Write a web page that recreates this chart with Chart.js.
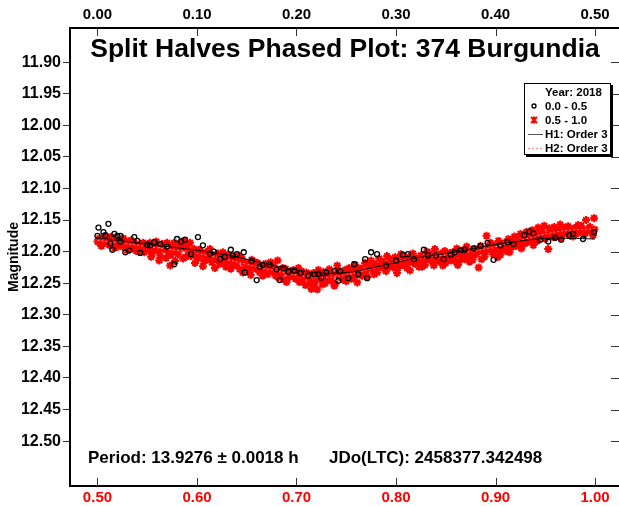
<!DOCTYPE html>
<html>
<head>
<meta charset="utf-8">
<script src="https://cdn.jsdelivr.net/npm/chart.js@4.4.0/dist/chart.umd.min.js"></script>
<style>
  html, body { margin: 0; padding: 0; background: #fff; }
  #wrap { width: 619px; height: 506px; overflow: hidden; }
</style>
</head>
<body>
<div id="wrap"><canvas id="phaseChart" width="619" height="506"></canvas></div>
<script>
// first half of the phase (0.0 - 0.5), black circles
var blackPhase = [0.001, 0.011, 0.000, 0.006, 0.008, 0.013, 0.015, 0.017, 0.020, 0.023,
    0.023, 0.028, 0.032, 0.037, 0.040, 0.043, 0.050, 0.053, 0.057, 0.063,
    0.070, 0.077, 0.080, 0.084, 0.088, 0.094, 0.101, 0.106, 0.113, 0.117,
    0.123, 0.128, 0.134, 0.136, 0.140, 0.147, 0.148, 0.155, 0.160, 0.163,
    0.166, 0.173, 0.180, 0.183, 0.187, 0.192, 0.198, 0.204, 0.212, 0.218,
    0.222, 0.225, 0.230, 0.238, 0.242, 0.244, 0.252, 0.258, 0.262, 0.269,
    0.271, 0.275, 0.281, 0.290, 0.300, 0.307, 0.312, 0.318, 0.328, 0.332,
    0.340, 0.348, 0.355, 0.359, 0.365, 0.369, 0.378, 0.385, 0.392, 0.398,
    0.405, 0.412, 0.418, 0.429, 0.434, 0.438, 0.445, 0.453, 0.460, 0.466,
    0.474, 0.478, 0.488, 0.499];
var blackMag = [12.162, 12.156, 12.175, 12.169, 12.174, 12.187, 12.197, 12.172, 12.175, 12.175,
    12.184, 12.201, 12.198, 12.177, 12.183, 12.202, 12.189, 12.190, 12.185, 12.188,
    12.192, 12.220, 12.180, 12.184, 12.181, 12.204, 12.177, 12.190, 12.203, 12.200,
    12.212, 12.208, 12.197, 12.206, 12.204, 12.201, 12.233, 12.215, 12.245, 12.224,
    12.221, 12.221, 12.228, 12.245, 12.226, 12.232, 12.230, 12.234, 12.238, 12.236,
    12.235, 12.241, 12.233, 12.231, 12.246, 12.231, 12.242, 12.220, 12.236, 12.212,
    12.242, 12.201, 12.204, 12.222, 12.214, 12.205, 12.204, 12.212, 12.197, 12.206,
    12.206, 12.212, 12.205, 12.201, 12.198, 12.197, 12.195, 12.191, 12.186, 12.213,
    12.190, 12.185, 12.188, 12.174, 12.168, 12.171, 12.181, 12.184, 12.178, 12.181,
    12.174, 12.172, 12.180, 12.169];

// second half of the phase (0.5 - 1.0), red crosses
var redPhase = [0.500, 0.502, 0.503, 0.505, 0.507, 0.509, 0.511, 0.512, 0.514, 0.516,
    0.518, 0.520, 0.521, 0.523, 0.525, 0.527, 0.529, 0.531, 0.533, 0.535,
    0.537, 0.539, 0.541, 0.543, 0.545, 0.547, 0.549, 0.551, 0.553, 0.555,
    0.557, 0.559, 0.561, 0.563, 0.565, 0.567, 0.569, 0.571, 0.573, 0.575,
    0.577, 0.579, 0.581, 0.583, 0.585, 0.587, 0.589, 0.591, 0.593, 0.595,
    0.597, 0.599, 0.601, 0.603, 0.605, 0.607, 0.609, 0.611, 0.613, 0.615,
    0.617, 0.619, 0.621, 0.623, 0.625, 0.627, 0.629, 0.631, 0.633, 0.635,
    0.637, 0.639, 0.641, 0.643, 0.645, 0.647, 0.649, 0.651, 0.653, 0.655,
    0.657, 0.659, 0.661, 0.663, 0.665, 0.667, 0.669, 0.671, 0.673, 0.675,
    0.677, 0.679, 0.681, 0.683, 0.685, 0.687, 0.689, 0.691, 0.693, 0.695,
    0.697, 0.699, 0.701, 0.703, 0.705, 0.707, 0.709, 0.711, 0.713, 0.715,
    0.717, 0.719, 0.721, 0.723, 0.725, 0.727, 0.729, 0.731, 0.733, 0.735,
    0.737, 0.739, 0.741, 0.743, 0.745, 0.747, 0.749, 0.751, 0.753, 0.755,
    0.757, 0.759, 0.761, 0.763, 0.765, 0.767, 0.769, 0.771, 0.773, 0.775,
    0.777, 0.779, 0.781, 0.783, 0.785, 0.787, 0.789, 0.791, 0.793, 0.795,
    0.797, 0.799, 0.801, 0.803, 0.805, 0.807, 0.809, 0.811, 0.813, 0.815,
    0.817, 0.819, 0.821, 0.823, 0.825, 0.827, 0.829, 0.831, 0.833, 0.835,
    0.837, 0.839, 0.841, 0.843, 0.845, 0.847, 0.849, 0.851, 0.853, 0.855,
    0.857, 0.859, 0.861, 0.863, 0.865, 0.867, 0.869, 0.871, 0.873, 0.875,
    0.877, 0.879, 0.881, 0.883, 0.885, 0.887, 0.889, 0.891, 0.893, 0.895,
    0.897, 0.899, 0.901, 0.903, 0.905, 0.907, 0.909, 0.911, 0.913, 0.915,
    0.917, 0.919, 0.921, 0.923, 0.925, 0.927, 0.929, 0.931, 0.933, 0.935,
    0.937, 0.939, 0.941, 0.943, 0.945, 0.947, 0.949, 0.951, 0.953, 0.955,
    0.957, 0.959, 0.961, 0.963, 0.965, 0.967, 0.969, 0.971, 0.973, 0.975,
    0.977, 0.979, 0.981, 0.983, 0.985, 0.987, 0.989, 0.991, 0.993, 0.995,
    0.997, 0.999, 0.9995,
    0.504, 0.508, 0.513, 0.517, 0.522, 0.526, 0.530, 0.534, 0.538, 0.542,
    0.546, 0.550, 0.554, 0.558, 0.562, 0.566, 0.570, 0.574, 0.578, 0.582,
    0.586, 0.590, 0.594, 0.598, 0.602, 0.606, 0.610, 0.614, 0.618, 0.622,
    0.626, 0.630, 0.634, 0.638, 0.642, 0.646, 0.650, 0.654, 0.658, 0.662,
    0.666, 0.670, 0.674, 0.678, 0.682, 0.686, 0.690, 0.694, 0.698, 0.702,
    0.706, 0.710, 0.714, 0.718, 0.722, 0.726, 0.730, 0.734, 0.738, 0.742,
    0.746, 0.750, 0.754, 0.758, 0.762, 0.766, 0.770, 0.774, 0.778, 0.782,
    0.786, 0.790, 0.794, 0.798, 0.802, 0.806, 0.810, 0.814, 0.818, 0.822,
    0.826, 0.830, 0.834, 0.838, 0.842, 0.846, 0.850, 0.854, 0.858, 0.862,
    0.866, 0.870, 0.874, 0.878, 0.882, 0.886, 0.890, 0.894, 0.898, 0.902,
    0.906, 0.910, 0.914, 0.918, 0.922, 0.926, 0.930, 0.934, 0.938, 0.942,
    0.946, 0.950, 0.954, 0.958, 0.962, 0.966, 0.970, 0.974, 0.978, 0.982,
    0.986, 0.990, 0.994, 0.998];
var redMag = [12.184, 12.179, 12.188, 12.182, 12.176, 12.186, 12.180, 12.190, 12.184, 12.178,
    12.187, 12.183, 12.192, 12.186, 12.181, 12.193, 12.188, 12.184, 12.196, 12.190,
    12.186, 12.199, 12.192, 12.188, 12.195, 12.201, 12.190, 12.197, 12.186, 12.203,
    12.194, 12.184, 12.199, 12.206, 12.188, 12.196, 12.210, 12.201, 12.222, 12.192,
    12.186, 12.199, 12.204, 12.189, 12.195, 12.183, 12.208, 12.198, 12.186, 12.202,
    12.196, 12.206, 12.211, 12.199, 12.204, 12.215, 12.201, 12.209, 12.196, 12.217,
    12.206, 12.212, 12.203, 12.219, 12.209, 12.214, 12.224, 12.205, 12.212, 12.218,
    12.208, 12.221, 12.214, 12.228, 12.211, 12.217, 12.224, 12.219, 12.230, 12.213,
    12.222, 12.227, 12.218, 12.233, 12.224, 12.229, 12.219, 12.236, 12.226, 12.231,
    12.223, 12.238, 12.214, 12.229, 12.234, 12.244, 12.227, 12.232, 12.240, 12.236,
    12.229, 12.243, 12.235, 12.248, 12.231, 12.239, 12.253, 12.237, 12.242, 12.259,
    12.234, 12.246, 12.260, 12.238, 12.244, 12.232, 12.250, 12.241, 12.228, 12.246,
    12.236, 12.251, 12.222, 12.240, 12.233, 12.245, 12.229, 12.238, 12.226, 12.243,
    12.232, 12.221, 12.249, 12.236, 12.227, 12.231, 12.218, 12.240, 12.225, 12.214,
    12.229, 12.220, 12.233, 12.211, 12.224, 12.216, 12.228, 12.207, 12.219, 12.213,
    12.225, 12.209, 12.234, 12.217, 12.204, 12.221, 12.212, 12.226, 12.208, 12.216,
    12.203, 12.219, 12.211, 12.224, 12.206, 12.214, 12.221, 12.200, 12.212, 12.207,
    12.218, 12.196, 12.209, 12.215, 12.203, 12.222, 12.199, 12.211, 12.206, 12.214,
    12.201, 12.209, 12.195, 12.217, 12.204, 12.198, 12.212, 12.192, 12.207, 12.201,
    12.213, 12.196, 12.204, 12.225, 12.191, 12.199, 12.208, 12.175, 12.194, 12.186,
    12.201, 12.190, 12.197, 12.183, 12.205, 12.192, 12.186, 12.199, 12.180, 12.193,
    12.185, 12.176, 12.191, 12.182, 12.172, 12.188, 12.179, 12.169, 12.184, 12.176,
    12.166, 12.181, 12.173, 12.162, 12.177, 12.170, 12.159, 12.174, 12.196, 12.166,
    12.171, 12.161, 12.176, 12.168, 12.157, 12.173, 12.165, 12.170, 12.160, 12.175,
    12.168, 12.163, 12.172, 12.158, 12.169, 12.164, 12.173, 12.150, 12.166, 12.161,
    12.170, 12.147, 12.165,
    12.191, 12.183, 12.177, 12.194, 12.187, 12.179, 12.198, 12.182, 12.193, 12.200,
    12.186, 12.194, 12.208, 12.189, 12.214, 12.191, 12.186, 12.205, 12.215, 12.193,
    12.211, 12.190, 12.207, 12.218, 12.197, 12.223, 12.213, 12.206, 12.226, 12.214,
    12.201, 12.216, 12.227, 12.215, 12.206, 12.233, 12.225, 12.237, 12.216, 12.226,
    12.238, 12.224, 12.217, 12.233, 12.241, 12.226, 12.248, 12.231, 12.238, 12.226,
    12.244, 12.233, 12.250, 12.255, 12.229, 12.252, 12.236, 12.242, 12.254, 12.230,
    12.239, 12.247, 12.231, 12.241, 12.226, 12.238, 12.230, 12.222, 12.236, 12.225,
    12.219, 12.231, 12.223, 12.215, 12.226, 12.212, 12.220, 12.230, 12.210, 12.217,
    12.224, 12.211, 12.203, 12.222, 12.213, 12.208, 12.218, 12.202, 12.214, 12.221,
    12.209, 12.203, 12.216, 12.206, 12.198, 12.212, 12.201, 12.190, 12.204, 12.209,
    12.196, 12.188, 12.201, 12.192, 12.184, 12.195, 12.187, 12.179, 12.190, 12.183,
    12.168, 12.180, 12.163, 12.177, 12.166, 12.178, 12.162, 12.171, 12.176, 12.166,
    12.159, 12.171, 12.163, 12.174];

// Fourier fits (order 3)
var h1Phase = [0.000, 0.025, 0.050, 0.075, 0.100, 0.125, 0.150, 0.175, 0.200, 0.225, 0.250,
    0.275, 0.300, 0.325, 0.350, 0.375, 0.400, 0.425, 0.450, 0.475, 0.500];
var h1Mag = [12.178, 12.183, 12.188, 12.193, 12.198, 12.204, 12.212, 12.221, 12.229, 12.234, 12.233,
    12.226, 12.217, 12.209, 12.203, 12.196, 12.189, 12.183, 12.179, 12.179, 12.180];
var h2Phase = [0.500, 0.525, 0.550, 0.575, 0.600, 0.625, 0.650, 0.675, 0.700, 0.725, 0.750,
    0.775, 0.800, 0.825, 0.850, 0.875, 0.900, 0.925, 0.950, 0.975, 1.000];
var h2Mag = [12.182, 12.187, 12.192, 12.197, 12.203, 12.211, 12.220, 12.229, 12.237, 12.241, 12.237,
    12.227, 12.216, 12.210, 12.205, 12.200, 12.192, 12.182, 12.172, 12.166, 12.164];

var topTicks = [0.0, 0.1, 0.2, 0.3, 0.4, 0.5];
var bottomTicks = [0.5, 0.6, 0.7, 0.8, 0.9, 1.0];
var yTicks = [11.90, 11.95, 12.00, 12.05, 12.10, 12.15, 12.20, 12.25, 12.30, 12.35, 12.40, 12.45, 12.50];

var FONT = "'Liberation Sans', Arial, sans-serif";

const toPoints = (xs, ys) => xs.map((x, i) => ({ x: x, y: ys[i] }));

// Draws the inner ticks, title, footer and the boxed legend
const annotations = {
    id: 'annotations',
    afterDraw: function (chart) {
        const ctx = chart.ctx;
        const area = chart.chartArea;
        ctx.save();

        ctx.strokeStyle = '#333';
        ctx.lineWidth = 1;
        topTicks.forEach(v => {
            const px = Math.round(chart.scales.xTop.getPixelForValue(v)) + 0.5;
            ctx.beginPath();
            ctx.moveTo(px, area.top);
            ctx.lineTo(px, area.top + 8);
            ctx.stroke();
        });
        bottomTicks.forEach(v => {
            const px = Math.round(chart.scales.xBottom.getPixelForValue(v)) + 0.5;
            ctx.beginPath();
            ctx.moveTo(px, area.bottom);
            ctx.lineTo(px, area.bottom - 8);
            ctx.stroke();
        });
        yTicks.forEach(v => {
            const py = Math.round(chart.scales.y.getPixelForValue(v)) + 0.5;
            ctx.beginPath();
            ctx.moveTo(area.right, py);
            ctx.lineTo(area.right - 8, py);
            ctx.stroke();
        });

        ctx.fillStyle = '#000';
        ctx.textBaseline = 'alphabetic';
        ctx.textAlign = 'center';
        ctx.font = 'bold 26.5px ' + FONT;
        ctx.fillText('Split Halves Phased Plot: 374 Burgundia', 345, 57);

        ctx.textAlign = 'left';
        ctx.font = 'bold 17px ' + FONT;
        ctx.fillText('Period: 13.9276 \u00b1 0.0018 h', 88, 463);
        ctx.fillText('JDo(LTC): 2458377.342498', 329, 463);

        // legend box with a drop shadow
        const bx = 524, by = 83, bw = 87, bh = 72;
        ctx.fillStyle = '#000';
        ctx.fillRect(bx + 2, by + 2, bw, bh);
        ctx.fillStyle = '#fff';
        ctx.fillRect(bx, by, bw, bh);
        ctx.strokeStyle = '#000';
        ctx.lineWidth = 1;
        ctx.strokeRect(bx + 0.5, by + 0.5, bw - 1, bh - 1);

        ctx.fillStyle = '#000';
        ctx.font = 'bold 11.5px ' + FONT;
        ctx.fillText('Year: 2018', 545, 96);
        ctx.fillText('0.0 - 0.5', 545, 110);
        ctx.fillText('0.5 - 1.0', 545, 124);
        ctx.fillText('H1: Order 3', 545, 138);
        ctx.fillText('H2: Order 3', 545, 152);

        ctx.beginPath();
        ctx.arc(534, 106, 2, 0, Math.PI * 2);
        ctx.lineWidth = 1.3;
        ctx.strokeStyle = '#000';
        ctx.stroke();

        ctx.strokeStyle = '#ff0000';
        ctx.lineWidth = 2;
        ctx.beginPath();
        ctx.moveTo(531, 117); ctx.lineTo(537, 123);
        ctx.moveTo(537, 117); ctx.lineTo(531, 123);
        ctx.moveTo(534, 116.5); ctx.lineTo(534, 123.5);
        ctx.stroke();

        ctx.lineWidth = 1;
        ctx.strokeStyle = '#555';
        ctx.beginPath();
        ctx.moveTo(528, 134.5); ctx.lineTo(543, 134.5);
        ctx.stroke();

        ctx.strokeStyle = '#ff8888';
        ctx.setLineDash([2, 2]);
        ctx.beginPath();
        ctx.moveTo(528, 148.5); ctx.lineTo(543, 148.5);
        ctx.stroke();
        ctx.restore();
    }
};

// fixed box sizes so the plot frame matches the reference
const fixHorizontal = h => s => { s.height = h; s.paddingLeft = 0; s.paddingRight = 0; };

const phaseChart = new Chart(document.getElementById('phaseChart'), {
    type: 'scatter',
    data: {
        datasets: [
            {
                label: 'H1: Order 3',
                data: toPoints(h1Phase, h1Mag),
                xAxisID: 'xTop',
                showLine: true,
                borderColor: '#000',
                borderWidth: 1,
                pointRadius: 0,
                tension: 0.4,
                order: 0
            },
            {
                label: '0.0 - 0.5',
                data: toPoints(blackPhase, blackMag),
                xAxisID: 'xTop',
                pointStyle: 'circle',
                pointRadius: 2.5,
                borderColor: '#000',
                borderWidth: 1.3,
                backgroundColor: 'rgba(0, 0, 0, 0)',
                order: 1
            },
            {
                label: 'H2: Order 3',
                data: toPoints(h2Phase, h2Mag),
                xAxisID: 'xBottom',
                showLine: true,
                borderColor: '#ff8888',
                borderWidth: 1,
                borderDash: [2, 2],
                pointRadius: 0,
                tension: 0.4,
                order: 2
            },
            {
                label: '0.5 - 1.0',
                data: toPoints(redPhase, redMag),
                xAxisID: 'xBottom',
                pointStyle: 'star',
                pointRadius: 4,
                borderColor: '#ff0000',
                borderWidth: 2,
                backgroundColor: '#ff0000',
                order: 3
            }
        ]
    },
    options: {
        responsive: false,
        animation: false,
        layout: { padding: 0, autoPadding: false },
        plugins: {
            legend: { display: false },
            tooltip: { enabled: false }
        },
        scales: {
            xTop: {
                type: 'linear',
                position: 'top',
                min: -0.0276,
                max: 0.5241,
                afterBuildTicks: s => { s.ticks = topTicks.map(v => ({ value: v })); },
                afterFit: fixHorizontal(28),
                grid: { drawOnChartArea: false, drawTicks: false },
                border: { display: true, color: '#000', width: 2 },
                ticks: {
                    padding: 4,
                    color: '#000',
                    font: { family: FONT, size: 15, weight: 'bold' },
                    callback: v => v.toFixed(2)
                }
            },
            xBottom: {
                type: 'linear',
                position: 'bottom',
                min: 0.4724,
                max: 1.0241,
                afterBuildTicks: s => { s.ticks = bottomTicks.map(v => ({ value: v })); },
                afterFit: fixHorizontal(20),
                grid: { drawOnChartArea: false, drawTicks: false },
                border: { display: true, color: '#000', width: 2 },
                ticks: {
                    padding: 3,
                    color: '#ff0000',
                    font: { family: FONT, size: 15, weight: 'bold' },
                    callback: v => v.toFixed(2)
                }
            },
            y: {
                type: 'linear',
                position: 'left',
                reverse: true,
                min: 11.846,
                max: 12.571,
                afterBuildTicks: s => { s.ticks = yTicks.map(v => ({ value: v })); },
                afterFit: s => { s.width = 70; s.paddingTop = 0; s.paddingBottom = 0; },
                grid: { drawOnChartArea: false, drawTicks: true, tickLength: 7, color: '#333' },
                border: { display: true, color: '#000', width: 2 },
                title: {
                    display: true,
                    text: 'Magnitude',
                    color: '#000',
                    padding: { top: 6, bottom: 0 },
                    font: { family: FONT, size: 14, weight: 'bold' }
                },
                ticks: {
                    padding: 2,
                    color: '#000',
                    font: { family: FONT, size: 16, weight: 'bold' },
                    callback: v => v.toFixed(2)
                }
            }
        }
    },
    plugins: [annotations]
});
</script>
</body>
</html>
